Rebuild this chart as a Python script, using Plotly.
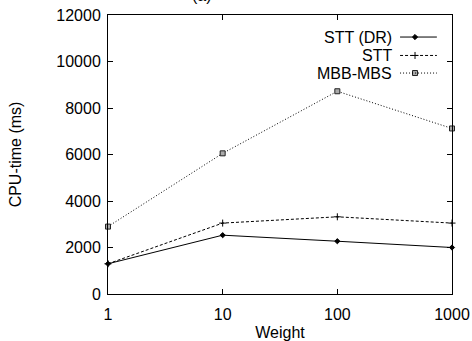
import plotly.graph_objects as go

weights = [1, 10, 100, 1000]
stt_dr = [1300, 2530, 2270, 2000]
stt = [1300, 3050, 3320, 3050]
mbb_mbs = [2900, 6050, 8720, 7120]
y_ticks = [0, 2000, 4000, 6000, 8000, 10000, 12000]
series_names = ["STT (DR)", "STT", "MBB-MBS"]

FONT = "Liberation Sans, Arial, Helvetica, sans-serif"
fig = go.Figure()

styles = [
    dict(dash="solid", symbol="diamond", size=4, color="black", lc="black"),
    dict(dash="3px,2px", symbol="cross-thin", size=5, color="black", lc="black"),
    dict(dash="1px,2px", symbol="square", size=5, color="#aaaaaa", lc="#222222"),
]
for name, vals, st in zip(series_names, [stt_dr, stt, mbb_mbs], styles):
    fig.add_trace(go.Scatter(
        x=weights, y=vals, name=name, mode="lines+markers",
        line=dict(color="black", width=1, dash=st["dash"]),
        marker=dict(symbol=st["symbol"], size=st["size"], color=st["color"],
                    line=dict(color=st["lc"], width=1)),
        showlegend=False, cliponaxis=False,
    ))

# custom legend: text right-aligned, sample to the right
leg_y = [0.921, 0.855, 0.792]
for i, (name, st) in enumerate(zip(series_names, styles)):
    fig.add_annotation(xref="paper", yref="paper", x=0.831, y=leg_y[i],
                       text=name, showarrow=False, xanchor="right", yanchor="middle",
                       font=dict(family=FONT, size=16, color="black"))
    fig.add_shape(type="line", xref="paper", yref="paper",
                  x0=0.849, x1=0.956, y0=leg_y[i], y1=leg_y[i],
                  line=dict(color="black", width=1, dash=st["dash"]))
    fig.add_trace(go.Scatter(
        x=[0.8925], y=[leg_y[i]], xaxis="x2", yaxis="y2", mode="markers",
        marker=dict(symbol=st["symbol"], size=st["size"], color=st["color"],
                    line=dict(color=st["lc"], width=1)),
        showlegend=False, hoverinfo="skip"))

fig.add_annotation(xref="paper", yref="paper", x=0.273, y=1.0, yshift=9,
                   text="(a)", showarrow=False, xanchor="center", yanchor="bottom",
                   font=dict(family=FONT, size=16, color="black"))

fig.update_layout(
    width=472, height=341,
    margin=dict(l=108, r=20, t=15, b=47, autoexpand=False),
    paper_bgcolor="white", plot_bgcolor="white",
    font=dict(family=FONT, size=16, color="black"),
    xaxis=dict(type="log", range=[0, 3], tickvals=weights,
               ticktext=[str(w) for w in weights],
               ticks="inside", ticklen=5, tickcolor="black",
               showline=True, linecolor="black", linewidth=1, mirror="allticks",
               showgrid=False, zeroline=False, automargin=False,
               ticklabelstandoff=6,
               title=dict(text="Weight", standoff=4, font=dict(size=16))),
    yaxis=dict(range=[0, 12000], tickvals=y_ticks,
               ticktext=[str(v) for v in y_ticks],
               ticks="inside", ticklen=5, tickcolor="black",
               showline=True, linecolor="black", linewidth=1, mirror="allticks",
               showgrid=False, zeroline=False, automargin=False,
               ticklabelstandoff=3,
               title=dict(text="CPU-time (ms)", standoff=30, font=dict(size=16))),
    xaxis2=dict(range=[0, 1], overlaying="x", visible=False, anchor="y2"),
    yaxis2=dict(range=[0, 1], overlaying="y", visible=False, anchor="x2"),
)
fig.write_html("out.html", config={"displayModeBar": False},
               post_script="document.body.style.margin='0';")
